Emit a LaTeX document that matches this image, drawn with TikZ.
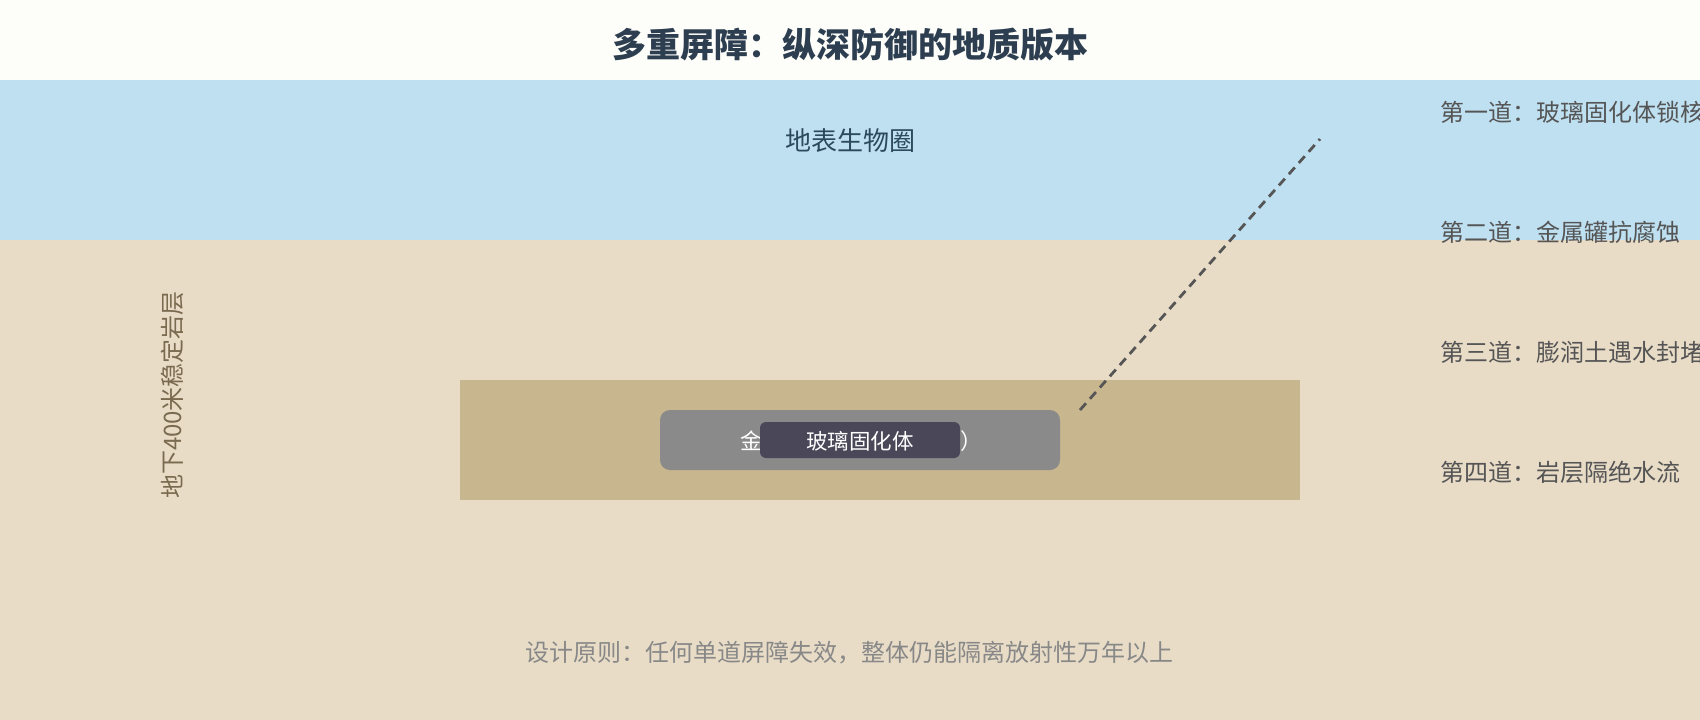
\documentclass[tikz,border=0pt]{standalone}
\usepackage{fontspec}
\setmainfont{Noto Sans CJK SC}
\newfontfamily\cjk{Noto Sans CJK SC}
\definecolor{topbg}{HTML}{FDFDF9}
\definecolor{skyblue}{HTML}{BEE0F1}
\definecolor{rocktan}{HTML}{E8DCC7}
\definecolor{vaulttan}{HTML}{C8B68E}
\definecolor{cangray}{HTML}{8A8A8A}
\definecolor{glassdark}{HTML}{4A4858}
\definecolor{titlecol}{HTML}{2C3E50}
\definecolor{surfcol}{HTML}{2C4A5C}
\definecolor{labcol}{HTML}{555555}
\definecolor{rockcol}{HTML}{7A6A4F}
\definecolor{notecol}{HTML}{888888}
\tikzset{
  block/.style={inner sep=0pt, outer sep=0pt, draw=none},
  fsz/.style={font=\cjk\fontsize{#1}{#1}\selectfont},
  barrier/.style={fsz=24, text=labcol, anchor=west, inner sep=0pt},
  leader/.style={draw=labcol, line width=2.8pt, dash pattern=on 9pt off 6pt}
}
\begin{document}
\begin{tikzpicture}[x=1pt,y=-1pt]
\useasboundingbox (0,0) rectangle (1700,720);
\clip (0,0) rectangle (1700,720);
\fill[topbg] (0,0) rectangle (1700,80);
\fill[skyblue] (0,80) rectangle (1700,240);
\fill[rocktan] (0,240) rectangle (1700,720);
\node[font=\cjk\bfseries\fontsize{34}{34}\selectfont, text=titlecol] (title) at (850,45) {多重屏障：纵深防御的地质版本};
\node[fsz=26, text=surfcol] (surface) at (850,141) {地表生物圈};
\node[fsz=24, text=rockcol, rotate=90] (rock) at (172,395) {地下400米稳定岩层};
\node[block, fill=vaulttan, minimum width=840pt, minimum height=120pt] (vault) at (880,440) {};
\node[block, fill=cangray, rounded corners=10pt, minimum width=400pt, minimum height=60pt] (can) at (860,440) {};
\node[fsz=22, text=white] (cantext) at (861,441) {金属罐（铜或钢制外壳）};
\node[block, fill=glassdark, rounded corners=6pt, minimum width=200pt, minimum height=36pt] (glass) at (860,440) {};
\node[fsz=21.5, text=white] (glasstext) at (860,441) {玻璃固化体};
\coordinate (leadstart) at (1080,410);
\coordinate (leadend) at (1320,139);
\draw[leader] (leadstart) -- (leadend);
\node[barrier] (b1) at (1440,112) {第一道：玻璃固化体锁核素};
\node[barrier] (b2) at (1440,232) {第二道：金属罐抗腐蚀};
\node[barrier] (b3) at (1440,352) {第三道：膨润土遇水封堵};
\node[barrier] (b4) at (1440,472) {第四道：岩层隔绝水流};
\node[fsz=24, text=notecol] (note) at (849,653) {设计原则：任何单道屏障失效，整体仍能隔离放射性万年以上};
\end{tikzpicture}
\end{document}
